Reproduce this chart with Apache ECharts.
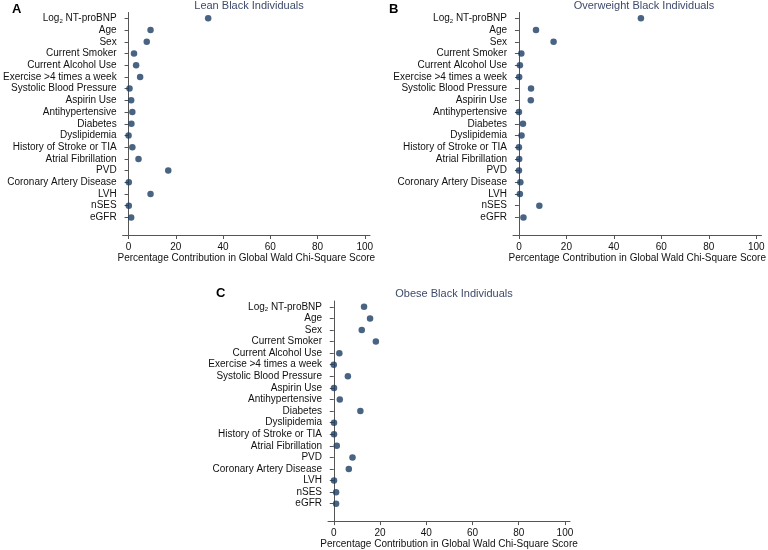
<!DOCTYPE html>
<html>
<head>
<meta charset="utf-8">
<script src="https://cdn.jsdelivr.net/npm/echarts@6/dist/echarts.min.js"></script>
<style>html,body{margin:0;padding:0;background:#fff}#c{width:768px;height:550px}</style>
</head>
<body>
<div id="c"></div>
<script>
const categories = ['Log₂ NT-proBNP','Age','Sex','Current Smoker','Current Alcohol Use','Exercise >4 times a week','Systolic Blood Pressure','Aspirin Use','Antihypertensive','Diabetes','Dyslipidemia','History of Stroke or TIA','Atrial Fibrillation','PVD','Coronary Artery Disease','LVH','nSES','eGFR'];
const leanValues = [33.7,9.3,7.7,2.3,3.2,4.9,0.4,1.1,1.6,1.2,0,1.6,4.2,16.8,0.1,9.3,0.1,1.1];
const overweightValues = [51.4,7.2,14.6,1.0,0.4,0.1,5.1,5.0,0,1.7,1.1,0,0.1,0,0.6,0.4,8.6,1.9];
const obeseValues = [13.1,15.7,12.1,18.2,2.4,0,6.1,0.1,2.6,11.5,0.1,0.1,1.3,8.1,6.5,0.1,1.0,1.0];
const xTicks = [0,20,40,60,80,100];
const panelTitles = ['Lean Black Individuals','Overweight Black Individuals','Obese Black Individuals'];
const panelLetters = ['A','B','C'];
const xAxisName = 'Percentage Contribution in Global Wald Chi-Square Score';

const FONT = '"Liberation Sans", Arial, Helvetica, sans-serif';
const axisCats = categories.concat(['']);
const grids = [
  {left:118, top:12.5, width:252, height:222.5},
  {left:513, top:12.5, width:252, height:222.5},
  {left:328, top:301, width:242, height:222.5}
];
const allValues = [leanValues, overweightValues, obeseValues];

const option = {
  animation:false,
  backgroundColor:'#fff',
  title: [
    {text:panelTitles[0], left:244, top:-5, textAlign:'center', textStyle:{fontFamily:FONT,fontSize:11,fontWeight:'normal',color:'#3e4a6b'}},
    {text:panelTitles[1], left:639, top:-5, textAlign:'center', textStyle:{fontFamily:FONT,fontSize:11,fontWeight:'normal',color:'#3e4a6b'}},
    {text:panelTitles[2], left:449, top:283, textAlign:'center', textStyle:{fontFamily:FONT,fontSize:11,fontWeight:'normal',color:'#3e4a6b'}},
    {text:panelLetters[0], left:7, top:-2, textStyle:{fontFamily:FONT,fontSize:13,fontWeight:'bold',color:'#000'}},
    {text:panelLetters[1], left:384, top:-2, textStyle:{fontFamily:FONT,fontSize:13,fontWeight:'bold',color:'#000'}},
    {text:panelLetters[2], left:211, top:282, textStyle:{fontFamily:FONT,fontSize:13,fontWeight:'bold',color:'#000'}}
  ],
  grid: grids.map(g => Object.assign({containLabel:false}, g)),
  xAxis: grids.map((g,i) => ({
    type:'value', gridIndex:i, min:-2.5, max:102.2,
    name:xAxisName, nameLocation:'middle', nameGap:17,
    nameTextStyle:{fontFamily:FONT,fontSize:10,color:'#111'},
    axisLine:{show:true,lineStyle:{color:'#555',width:1}},
    axisTick:{show:true,length:4,customValues:xTicks,lineStyle:{color:'#555'}},
    axisLabel:{customValues:xTicks,margin:7,fontFamily:FONT,fontSize:10,color:'#111'},
    splitLine:{show:false}
  })),
  yAxis: grids.map((g,i) => ({
    type:'category', gridIndex:i, data:axisCats, inverse:true,
    axisLine:{show:true,lineStyle:{color:'#555',width:1}},
    axisTick:{show:true,length:4,alignWithLabel:true,interval:(idx,val)=>val!=='',lineStyle:{color:'#555'}},
    axisLabel:{interval:0,margin:6,fontFamily:FONT,fontSize:10,color:'#111',
      formatter:(v)=>v.replace('₂','{sub|2}'),
      rich:{sub:{fontFamily:FONT,fontSize:6,color:'#111',verticalAlign:'bottom',padding:[5,0,0,0]}}},
    splitLine:{show:false}
  })),
  series: allValues.map((vals,i) => ({
    type:'scatter', xAxisIndex:i, yAxisIndex:i,
    symbolSize:6.5,
    itemStyle:{color:'#1b3d63'},
    data: vals.map((v,j)=>[v, categories[j]])
  }))
};
const chart = echarts.init(document.getElementById('c'), null, {renderer:'canvas'});
chart.setOption(option);
</script>
</body>
</html>
